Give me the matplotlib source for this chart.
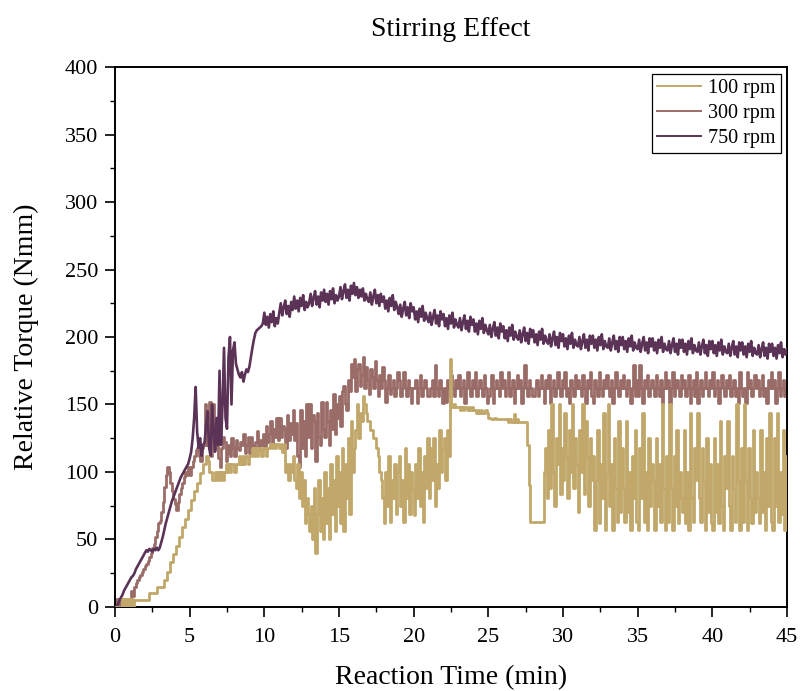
import numpy as np
import matplotlib
matplotlib.use("Agg")
import matplotlib.pyplot as plt
from matplotlib.ticker import MultipleLocator

plt.rcParams['font.family'] = ['Liberation Serif', 'DejaVu Serif']
plt.rcParams['path.simplify'] = False

# time axis: one reading every 0.1 min from 0 to 45 min
time_min = np.linspace(0, 45, 451)

labels = ["100 rpm", "300 rpm", "750 rpm"]
colors = ["#C1A86A", "#9A6C67", "#5B3356"]

# torque readings (Nmm), one row per minute (x.0 ... x.9)
torque_100 = [
    0, 0, 0, 0, 0, 6, 0, 6, 0, 6,
    0, 6, 0, 5, 5, 5, 5, 5, 5, 5,
    5, 5, 5, 10, 10, 10, 10, 10, 15, 15,
    15, 15, 15, 20, 20, 26, 26, 33, 33, 39,
    39, 45, 45, 52, 52, 59, 59, 65, 65, 72,
    72, 79, 79, 86, 86, 92, 92, 99, 99, 106,
    106, 112, 108, 100, 100, 94, 94, 100, 94, 100,
    94, 100, 94, 100, 106, 100, 106, 100, 106, 106,
    100, 106, 106, 112, 106, 112, 106, 112, 112, 106,
    112, 112, 118, 112, 118, 112, 118, 118, 112, 118,
    118, 112, 118, 118, 121, 118, 121, 118, 121, 121,
    118, 121, 115, 121, 100, 106, 94, 106, 100, 112,
    94, 88, 106, 81, 100, 75, 94, 62, 81, 69,
    56, 75, 50, 88, 40, 69, 94, 56, 81, 50,
    100, 62, 88, 50, 106, 69, 94, 56, 112, 75,
    100, 62, 118, 56, 106, 81, 125, 69, 138, 100,
    118, 131, 150, 125, 144, 138, 156, 150, 144, 138,
    138, 131, 131, 125, 125, 118, 112, 100, 94, 81,
    62, 100, 75, 112, 63, 94, 81, 106, 69, 100,
    112, 75, 94, 63, 118, 81, 106, 69, 100, 88,
    68, 106, 81, 118, 75, 100, 63, 112, 88, 125,
    81, 118, 94, 125, 75, 106, 88, 131, 100, 118,
    125, 94, 131, 112, 184, 150, 148, 150, 148, 148,
    148, 146, 148, 146, 148, 148, 146, 148, 146, 148,
    146, 146, 144, 146, 144, 146, 144, 144, 146, 144,
    140, 140, 139, 139, 140, 139, 139, 139, 139, 139,
    139, 139, 139, 137, 139, 137, 137, 143, 137, 139,
    137, 137, 137, 137, 137, 137, 120, 90, 63, 63,
    63, 63, 63, 63, 63, 63, 63, 100, 118, 81,
    131, 88, 150, 100, 75, 125, 106, 150, 84, 118,
    94, 144, 112, 81, 131, 100, 150, 88, 125, 106,
    70, 131, 100, 150, 84, 138, 112, 75, 125, 94,
    112, 57, 94, 131, 62, 106, 81, 144, 57, 100,
    150, 75, 106, 57, 125, 88, 63, 138, 70, 118,
    88, 63, 138, 70, 100, 57, 112, 81, 131, 63,
    57, 118, 81, 144, 63, 100, 57, 125, 75, 106,
    94, 57, 125, 75, 106, 63, 150, 88, 57, 112,
    63, 150, 88, 57, 112, 75, 131, 62, 100, 81,
    70, 131, 62, 100, 57, 144, 81, 63, 118, 94,
    144, 81, 63, 118, 94, 57, 125, 70, 106, 62,
    57, 125, 70, 106, 62, 138, 75, 57, 112, 88,
    138, 75, 57, 112, 88, 63, 150, 94, 57, 118,
    63, 150, 94, 57, 118, 81, 62, 131, 70, 100,
    81, 62, 131, 70, 100, 57, 125, 75, 144, 63,
    57, 125, 75, 144, 63, 100, 69, 131, 57, 112,
    100,
]

torque_300 = [
    0, 6, 0, 6, 0, 6, 0, 6, 0, 6,
    6, 12, 8, 15, 18, 20, 22, 24, 26, 28,
    30, 32, 34, 37, 40, 44, 47, 52, 56, 62,
    64, 70, 78, 89, 98, 104, 100, 92, 86, 80,
    76, 72, 78, 84, 88, 92, 96, 100, 98, 104,
    98, 104, 108, 112, 116, 118, 112, 108, 118, 120,
    150, 120, 140, 152, 112, 150, 126, 118, 132, 110,
    104, 118, 126, 122, 108, 114, 120, 112, 125, 118,
    112, 124, 118, 116, 122, 120, 128, 114, 120, 126,
    114, 126, 120, 118, 122, 130, 116, 124, 120, 128,
    118, 134, 122, 128, 138, 120, 132, 126, 140, 124,
    140, 126, 134, 132, 118, 142, 124, 136, 128, 146,
    124, 136, 112, 104, 146, 118, 138, 112, 150, 126,
    150, 118, 142, 138, 108, 144, 126, 120, 152, 132,
    126, 152, 138, 120, 146, 132, 158, 128, 150, 140,
    156, 134, 160, 164, 150, 146, 168, 160, 180, 170,
    184, 160, 176, 180, 164, 172, 185, 162, 178, 168,
    158, 176, 170, 162, 182, 168, 156, 172, 162, 178,
    168, 152, 162, 172, 158, 162, 168, 156, 162, 174,
    168, 156, 162, 174, 162, 156, 168, 162, 151, 162,
    162, 168, 151, 162, 172, 156, 162, 168, 162, 156,
    156, 162, 168, 156, 179, 162, 156, 168, 162, 151,
    162, 152, 168, 162, 156, 172, 162, 156, 168, 162,
    172, 156, 162, 168, 151, 162, 174, 162, 156, 168,
    162, 174, 156, 162, 168, 162, 156, 172, 162, 151,
    156, 162, 172, 151, 162, 168, 162, 156, 174, 162,
    168, 156, 162, 174, 156, 162, 168, 151, 162, 172,
    162, 168, 151, 162, 179, 162, 156, 168, 162, 156,
    156, 162, 168, 156, 162, 172, 162, 151, 168, 162,
    172, 151, 162, 168, 156, 162, 174, 162, 156, 168,
    162, 174, 156, 162, 151, 168, 162, 156, 172, 162,
    168, 162, 156, 172, 162, 151, 168, 162, 174, 156,
    151, 168, 162, 156, 174, 162, 156, 168, 162, 172,
    162, 156, 168, 151, 162, 174, 162, 156, 168, 162,
    172, 162, 156, 168, 162, 151, 162, 179, 156, 168,
    156, 179, 162, 151, 168, 162, 172, 156, 162, 168,
    162, 156, 172, 162, 156, 168, 151, 162, 174, 162,
    168, 151, 162, 174, 156, 162, 168, 162, 156, 172,
    162, 168, 156, 162, 172, 151, 162, 168, 156, 174,
    151, 162, 168, 156, 162, 174, 162, 156, 168, 162,
    174, 156, 162, 168, 151, 162, 172, 162, 156, 168,
    162, 172, 156, 162, 168, 156, 162, 151, 174, 162,
    156, 162, 151, 174, 162, 168, 156, 162, 172, 162,
    168, 156, 162, 172, 156, 162, 151, 168, 162, 174,
    162, 168, 151, 162, 174, 156, 162, 168, 156, 162,
    162,
]

torque_750 = [
    0, 0, 2, 5, 7, 9, 12, 14, 16, 18,
    20, 22, 23, 25, 28, 30, 32, 34, 36, 38,
    40, 42, 41, 43, 42, 41, 43, 42, 44, 42,
    44, 48, 52, 57, 62, 66, 70, 74, 78, 81,
    84, 87, 90, 93, 96, 98, 100, 102, 104, 106,
    110, 115, 125, 140, 163, 130, 118, 125, 112, 120,
    122, 135, 145, 118, 112, 150, 130, 115, 140, 120,
    175, 120, 150, 192, 140, 132, 185, 200, 150, 190,
    196, 180, 176, 172, 170, 174, 167, 172, 176, 174,
    178, 185, 192, 198, 203, 205, 206, 207, 208, 210,
    218, 209, 215, 207, 217, 211, 219, 208, 214, 210,
    218, 225, 216, 222, 227, 217, 223, 215, 226, 220,
    230, 221, 227, 219, 229, 223, 231, 220, 226, 222,
    225, 232, 223, 229, 234, 224, 230, 222, 233, 227,
    235, 226, 232, 224, 234, 228, 236, 225, 231, 227,
    230, 237, 228, 234, 239, 229, 235, 227, 238, 232,
    240, 231, 237, 229, 235, 230, 236, 227, 232, 228,
    226, 233, 224, 230, 235, 225, 231, 223, 232, 226,
    230, 221, 227, 219, 229, 223, 231, 220, 226, 222,
    217, 224, 215, 221, 226, 216, 222, 214, 225, 219,
    222, 213, 219, 211, 221, 215, 223, 212, 218, 214,
    211, 218, 209, 215, 220, 210, 216, 208, 219, 213,
    217, 208, 214, 206, 216, 210, 218, 207, 213, 209,
    207, 214, 205, 211, 216, 206, 212, 204, 215, 209,
    213, 204, 210, 202, 212, 206, 214, 203, 209, 205,
    202, 209, 200, 206, 211, 201, 207, 199, 210, 204,
    208, 199, 205, 197, 207, 201, 209, 198, 204, 200,
    198, 205, 196, 202, 207, 197, 203, 195, 206, 200,
    205, 196, 202, 194, 204, 198, 206, 195, 201, 197,
    195, 202, 193, 199, 204, 194, 200, 192, 203, 197,
    202, 193, 199, 191, 201, 195, 203, 192, 198, 194,
    193, 200, 191, 197, 202, 192, 198, 190, 201, 195,
    201, 192, 198, 190, 200, 194, 202, 191, 197, 193,
    192, 199, 190, 196, 201, 191, 197, 189, 200, 194,
    200, 191, 197, 189, 199, 193, 201, 190, 196, 192,
    191, 198, 189, 195, 200, 190, 196, 188, 199, 193,
    199, 190, 196, 188, 198, 192, 200, 189, 195, 191,
    190, 197, 188, 194, 199, 189, 195, 187, 198, 192,
    198, 189, 195, 187, 197, 191, 199, 188, 194, 190,
    189, 196, 187, 193, 198, 188, 194, 186, 197, 191,
    197, 188, 194, 186, 196, 190, 198, 187, 193, 189,
    188, 195, 186, 192, 197, 187, 193, 185, 196, 190,
    196, 187, 193, 185, 195, 189, 197, 186, 192, 188,
    187, 194, 185, 191, 196, 186, 192, 184, 195, 189,
    195, 186, 192, 184, 194, 188, 196, 185, 191, 187,
    191,
]

x_ticks = [0, 5, 10, 15, 20, 25, 30, 35, 40, 45]
y_ticks = [0, 50, 100, 150, 200, 250, 300, 350, 400]

fig = plt.figure(figsize=(8.0, 6.91), dpi=100)
ax = fig.add_axes([0.14375, 0.1216, 0.84, 0.7814])

l300, = ax.plot(time_min, torque_300, color=colors[1], lw=2.0,
                drawstyle='steps-post', zorder=2, label=labels[1])
l750, = ax.plot(time_min, torque_750, color=colors[2], lw=1.9,
                zorder=3, label=labels[2])
l100, = ax.plot(time_min, torque_100, color=colors[0], lw=2.0,
                drawstyle='steps-post', zorder=4, label=labels[0])

ax.set_xlim(0, 45)
ax.set_ylim(0, 400)
ax.set_xticks(x_ticks)
ax.set_yticks(y_ticks)
ax.xaxis.set_minor_locator(MultipleLocator(2.5))
ax.yaxis.set_minor_locator(MultipleLocator(25))
ax.tick_params(which='major', direction='out', length=7, width=1.2,
               labelsize=16)
ax.tick_params(axis='x', which='major', pad=8)
ax.tick_params(axis='y', which='major', pad=5)
ax.tick_params(which='minor', direction='out', length=3.6, width=1.0)
for sp in ax.spines.values():
    sp.set_linewidth(1.4)
    sp.set_color('black')

ax.set_title("Stirring Effect", fontsize=20, pad=22)
ax.set_xlabel("Reaction Time (min)", fontsize=20, labelpad=13)
ax.set_ylabel("Relative Torque (Nmm)", fontsize=20, labelpad=19)

leg = ax.legend(handles=[l100, l300, l750], loc='upper right',
                bbox_to_anchor=(0.991, 0.987), borderaxespad=0,
                fontsize=14.5, handlelength=2.2, handletextpad=0.35,
                labelspacing=0.3, borderpad=0.25, fancybox=False,
                framealpha=1, edgecolor='black')
leg.get_frame().set_linewidth(0.9)
for line in leg.get_lines():
    line.set_linewidth(1.4)

fig.savefig("out.png", dpi=100)
